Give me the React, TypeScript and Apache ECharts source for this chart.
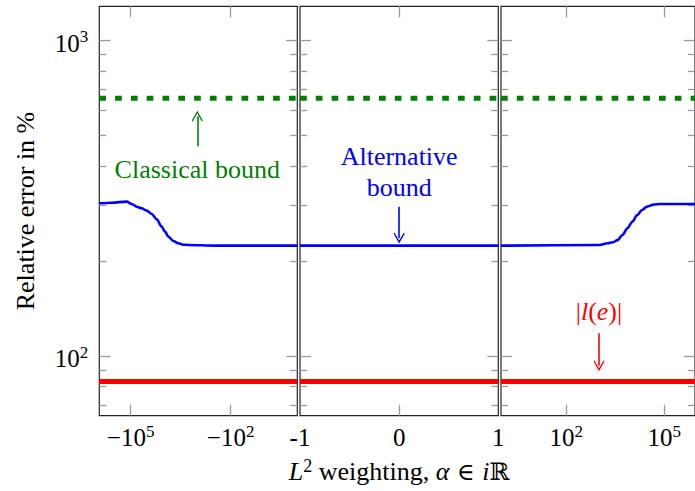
import React, { useEffect, useRef } from 'react'
import * as echarts from 'echarts'

// y range (log) and tick positions
const yMin = 64.7
const yMax = 1281
const yMajorTicks = [100, 1000]
const yMinorTicks = [70, 80, 90, 200, 300, 400, 500, 600, 700, 800, 900]

// outer panels: |alpha| from 1 to ~10^5.94 on a log scale
const sideMax = 870000
const sideTicks = [100, 100000]
const middleTicks = [0]
const middleLabels = [-1, 0, 1]

// constant levels
const classicalBound = 655
const errorNorm = 83
const altPlateau = 223.6

// alternative bound, left panel (alpha < -1, stored as |alpha|)
const leftAlpha = [
  870000, 831800, 371500, 131200, 92900, 65800, 46600, 33000, 23300, 16500,
  11700, 9310, 7410, 5250, 3720, 2630, 1860, 300, 1,
]
const leftAlt = [
  304.6, 304.6, 305.9, 308.2, 303.0, 297.1, 293.6, 288.6, 281.7, 271.0,
  256.8, 247.6, 238.8, 231.4, 227.5, 225.2, 224.7, 223.7, altPlateau,
]

// alternative bound, right panel (alpha > 1)
const rightAlpha = [
  1, 933, 1860, 2630, 3720, 5250, 7410, 10470, 14790, 20900, 29500, 46800,
  74100, 590000, 870000,
]
const rightAlt = [
  altPlateau, 224.6, 227.5, 229.1, 232.8, 241.6, 253.8, 266.3, 279.7, 290.1,
  297.2, 301.5, 303.1, 303.1, 303.1,
]

const middleAlpha = [-1, 1]

// annotations [x, y] in data space
const classicalArrow = [[1000, 462], [1000, 575]]
const classicalText = [1000, 391]
const altArrow = [[0, 297], [0, 236.5]]
const altText = [0, 382]
const normArrow = [[1000, 118], [1000, 93.2]]
const normText = [1000, 138]

const FONT = 'Liberation Serif, DejaVu Serif, serif'
const MATH = 'DejaVu Serif, DejaVu Sans, serif'
const TICK_COLOR = '#9a9a9a'
const GREEN = '#008000'
const BLUE = '#0000ff'
const RED = '#ff0000'
const CHEVRON = 'path://M0,0 L7,8 L6,9 L0,2.4 L-6,9 L-7,8 Z'

const supRich = {
  b: { fontSize: 25, fontFamily: FONT, color: '#000', lineHeight: 30 },
  s: { fontSize: 17, fontFamily: FONT, color: '#000', lineHeight: 18, verticalAlign: 'top' },
}

const pow10 = (v: number) => Math.round(Math.log10(Math.abs(v)))

const grids = [
  { left: 99.3, top: 6.3, width: 198, height: 409.4 },
  { left: 300, top: 6.3, width: 198.3, height: 409.4 },
  { left: 501, top: 6.3, width: 198, height: 409.4 },
].map(g => ({ ...g, show: true, borderColor: '#222', borderWidth: 1.2 }))

const tickStyle = { color: TICK_COLOR, width: 1.3 }

const buildYAxes = (gridIndex: number) => {
  const base = {
    type: 'log',
    logBase: 10,
    min: yMin,
    max: yMax,
    gridIndex,
    axisLine: { show: false, onZero: false },
    splitLine: { show: false },
    axisLabel: { show: false },
  }
  return ['left', 'right'].flatMap(position => [
    { ...base, position, axisTick: { inside: true, length: 11, lineStyle: tickStyle, customValues: yMajorTicks } },
    { ...base, position, axisTick: { inside: true, length: 7, lineStyle: tickStyle, customValues: yMinorTicks } },
  ])
}

const buildXAxes = (gridIndex: number) => {
  const middle = gridIndex === 1
  const base: any = middle
    ? { type: 'value', min: -1, max: 1 }
    : { type: 'log', logBase: 10, min: 1, max: sideMax, inverse: gridIndex === 0 }
  const common = {
    ...base,
    gridIndex,
    axisLine: { show: false, onZero: false },
    splitLine: { show: false },
    axisTick: { inside: true, length: 11, lineStyle: tickStyle, customValues: middle ? middleTicks : sideTicks },
  }
  const formatter = (v: number) => {
    if (middle) return `{b|${v < 0 ? '-' : ''}${Math.abs(v)}}`
    return `{b|${gridIndex === 0 ? '−' : ''}10}{s|${pow10(v)}}`
  }
  return [
    {
      ...common,
      position: 'bottom',
      axisLabel: {
        show: true,
        margin: 7,
        customValues: middle ? middleLabels : sideTicks,
        formatter,
        rich: supRich,
      },
      ...(middle
        ? {
            name: '{it|L}{s|2}{r| weighting, }{it|α}{m| ∈ }{it|i}{m|ℝ}',
            nameLocation: 'middle',
            nameGap: 41,
            nameTextStyle: {
              rich: {
                it: { fontSize: 26, fontFamily: FONT, fontStyle: 'italic', color: '#000', lineHeight: 30 },
                r: { fontSize: 26, fontFamily: FONT, color: '#000', lineHeight: 30 },
                m: { fontSize: 24, fontFamily: MATH, color: '#000', lineHeight: 30 },
                s: { fontSize: 18, fontFamily: FONT, color: '#000', lineHeight: 18, verticalAlign: 'top' },
              },
            },
          }
        : {}),
    },
    { ...common, position: 'top', axisLabel: { show: false } },
  ]
}

const yAxes = [0, 1, 2].flatMap(buildYAxes)
// labels and title on the outer left axis
yAxes[0] = {
  ...yAxes[0],
  axisLabel: {
    show: true,
    margin: 11,
    customValues: yMajorTicks,
    padding: [6, 0, 0, 0],
    formatter: (v: number) => `{b|10}{s|${pow10(v)}}`,
    rich: supRich,
  },
  name: 'Relative error in %',
  nameLocation: 'middle',
  nameGap: 61,
  nameRotate: 90,
  nameTextStyle: { fontSize: 26, fontFamily: FONT, color: '#000' },
} as any

const xAxes = [0, 1, 2].flatMap(buildXAxes)

const flat = (xs: number[], v: number) => [[xs[0], v], [xs[xs.length - 1], v]]
const zip = (xs: number[], ys: number[]) => xs.map((x, i) => [x, ys[i]])

const lineSeries = (gridIndex: number, data: number[][], color: string, width: number, type: any = 'solid', extra: any = {}) => ({
  type: 'line',
  xAxisIndex: gridIndex * 2,
  yAxisIndex: gridIndex * 4,
  data,
  symbol: 'none',
  silent: true,
  lineStyle: { color, width, type, cap: 'butt' },
  ...extra,
})

const arrowMark = (coords: number[][], color: string) => ({
  silent: true,
  symbol: ['none', CHEVRON],
  symbolSize: 11,
  label: { show: false },
  lineStyle: { color, width: 1.6, type: 'solid' },
  itemStyle: { color },
  emphasis: { disabled: true },
  data: [[{ coord: coords[0] }, { coord: coords[1] }]],
})

const textMark = (coord: number[], text: string, color: string, rich?: any) => ({
  silent: true,
  symbol: 'circle',
  symbolSize: 1,
  itemStyle: { color: 'rgba(0,0,0,0)' },
  label: {
    show: true,
    position: 'inside',
    formatter: text,
    color,
    fontSize: 26,
    fontFamily: FONT,
    lineHeight: 31,
    align: 'center',
    ...(rich ? { rich } : {}),
  },
  data: [{ coord }],
})

const App: React.FC = () => {
  const chartRef = useRef<HTMLDivElement>(null)

  useEffect(() => {
    if (!chartRef.current) return
    document.body.style.margin = '0'
    const chart = echarts.init(chartRef.current, null, { renderer: 'svg' })

    const normRich = {
      n: { fontSize: 26, fontFamily: FONT, color: RED },
      it: { fontSize: 26, fontFamily: FONT, color: RED, fontStyle: 'italic' },
    }

    const series = [
      // |l(e)|
      lineSeries(0, flat(leftAlpha, errorNorm), RED, 5),
      lineSeries(1, flat(middleAlpha, errorNorm), RED, 5),
      lineSeries(2, flat(rightAlpha, errorNorm), RED, 5, 'solid', {
        markLine: arrowMark(normArrow, RED),
        markPoint: textMark(normText, '{n||}{it|l}{n|(}{it|e}{n|)|}', RED, normRich),
      }),
      // classical bound
      lineSeries(0, flat(leftAlpha, classicalBound), GREEN, 5, [6.7, 9.1], {
        markLine: arrowMark(classicalArrow, GREEN),
        markPoint: textMark(classicalText, 'Classical bound', GREEN),
      }),
      lineSeries(1, flat(middleAlpha, classicalBound), GREEN, 5, [6.7, 9.1]),
      lineSeries(2, flat(rightAlpha, classicalBound), GREEN, 5, [6.7, 9.1]),
      // alternative bound
      lineSeries(0, zip(leftAlpha, leftAlt), BLUE, 2.6, 'solid', { smooth: 0.3, smoothMonotone: 'x' }),
      lineSeries(1, flat(middleAlpha, altPlateau), BLUE, 2.6, 'solid', {
        markLine: arrowMark(altArrow, BLUE),
        markPoint: textMark(altText, 'Alternative\nbound', BLUE),
      }),
      lineSeries(2, zip(rightAlpha, rightAlt), BLUE, 2.6, 'solid', { smooth: 0.3, smoothMonotone: 'x' }),
    ]

    chart.setOption({
      animation: false,
      backgroundColor: '#fff',
      grid: grids,
      xAxis: xAxes,
      yAxis: yAxes,
      series,
    } as any)

    return () => {
      chart.dispose()
    }
  }, [])

  return <div ref={chartRef} style={{ width: 695, height: 491 }} />
}

export default App
